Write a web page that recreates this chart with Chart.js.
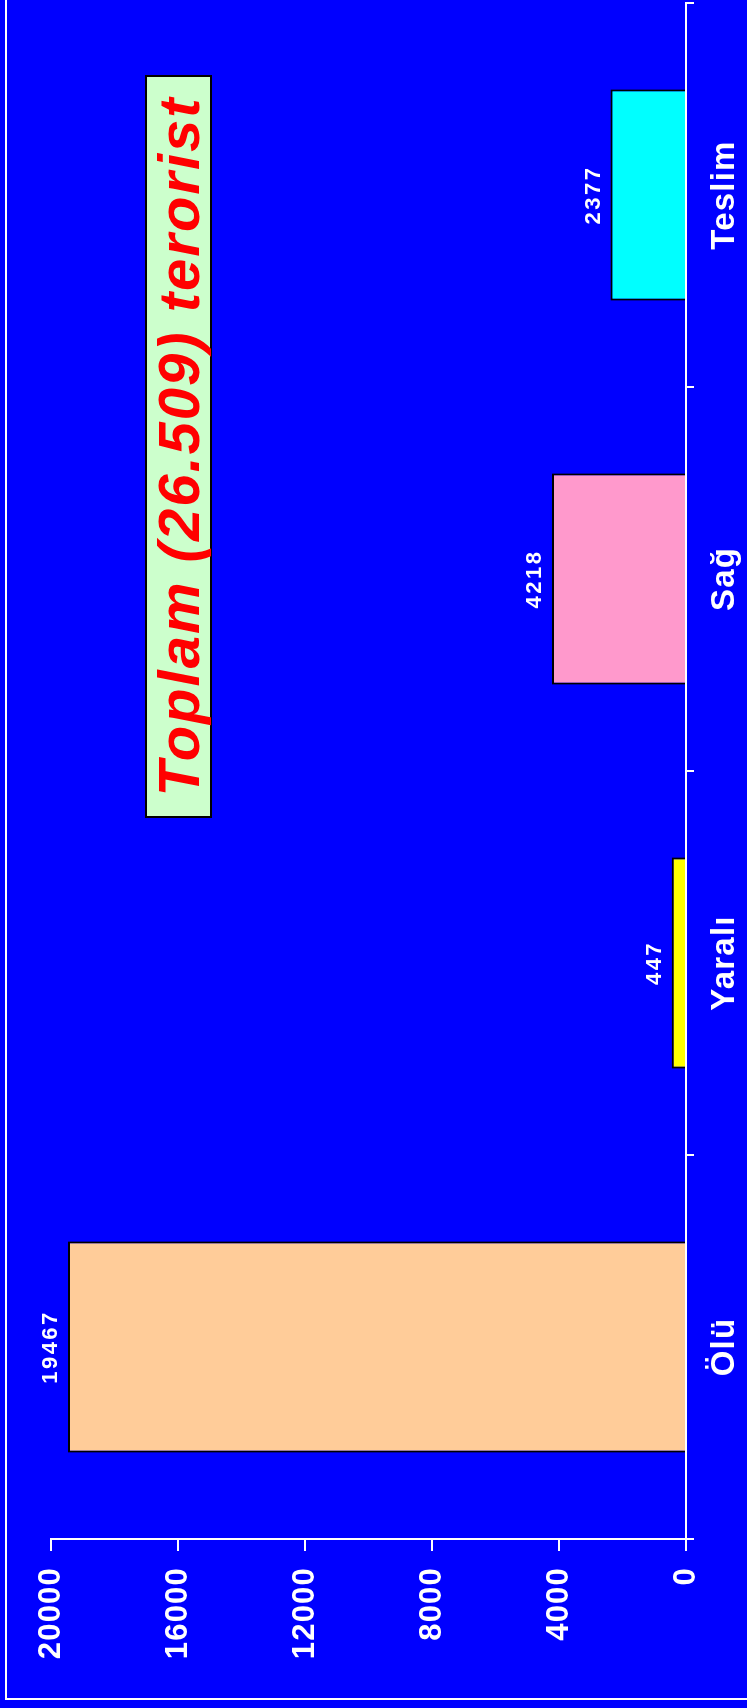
<!DOCTYPE html>
<html>
<head>
<meta charset="utf-8">
<script src="https://cdn.jsdelivr.net/npm/chart.js@4/dist/chart.umd.min.js"></script>
<style>
    html, body {
        margin: 0;
        padding: 0;
        width: 747px;
        height: 1708px;
        overflow: hidden;
        background: #0000FF;
    }
    /* the chart is laid out upright, then turned a quarter left */
    #stage {
        position: absolute;
        left: 0;
        top: 0;
        width: 1708px;
        height: 747px;
        transform-origin: 0 0;
        transform: translateY(1708px) rotate(-90deg);
        background: #0000FF;
    }
    #frame {
        position: absolute;
        left: 8px;
        top: 5px;
        width: 1760px;
        height: 800px;
        border: 2px solid #ffffff;
    }
    #chart {
        position: absolute;
        left: 0;
        top: 0;
    }
    #total {
        position: absolute;
        left: 890px;
        top: 145px;
        width: 739px;
        height: 63px;
        background: #CCFFCC;
        border: 2px solid #000000;
        color: #FF0000;
        font: italic bold 58px "Liberation Sans", Arial, sans-serif;
        letter-spacing: 2px;
        line-height: 63px;
        text-align: center;
        white-space: nowrap;
    }
</style>
</head>
<body>
<div id="stage">
    <div id="frame"></div>
    <canvas id="chart" width="1708" height="747"></canvas>
    <div id="total">Toplam (26.509) terorist</div>
</div>
<script>
const categories = ['Ölü', 'Yaralı', 'Sağ', 'Teslim'];
const counts = [19467, 447, 4218, 2377];
const barColors = ['#FFCC99', '#FFFF00', '#FF99CC', '#00FFFF'];
const valueTicks = [0, 4000, 8000, 12000, 16000, 20000];

const FONT = '"Liberation Sans", Arial, sans-serif';

// the original lettering is a touch wider than Liberation Sans
const wideText = {
    id: 'wideText',
    beforeDraw(chart) {
        chart.ctx.letterSpacing = '1.2px';
    },
};

// value printed above each bar
const barLabels = {
    id: 'barLabels',
    afterDatasetsDraw(chart) {
        const ctx = chart.ctx;
        const meta = chart.getDatasetMeta(0);
        ctx.save();
        ctx.font = `bold 22px ${FONT}`;
        ctx.letterSpacing = '2.5px';
        ctx.fillStyle = '#ffffff';
        ctx.textAlign = 'center';
        ctx.textBaseline = 'alphabetic';
        meta.data.forEach((bar, i) => {
            ctx.fillText(String(counts[i]), bar.x, bar.y - 11);
        });
        ctx.restore();
    },
};

new Chart(document.getElementById('chart'), {
    type: 'bar',
    data: {
        labels: categories,
        datasets: [{
            data: counts,
            backgroundColor: barColors,
            borderColor: '#000000',
            borderWidth: 2,
            barPercentage: 0.55,
            categoryPercentage: 1,
        }],
    },
    options: {
        responsive: false,
        animation: false,
        layout: {
            padding: { left: 0, top: 51, right: 3, bottom: 0 },
        },
        plugins: {
            legend: { display: false },
            tooltip: { enabled: false },
        },
        scales: {
            x: {
                offset: true,
                grid: {
                    offset: true,
                    drawOnChartArea: false,
                    color: '#ffffff',
                    lineWidth: 2,
                    tickLength: 8,
                },
                border: { display: true, color: '#ffffff', width: 2 },
                ticks: {
                    color: '#ffffff',
                    padding: 11,
                    font: { family: FONT, size: 33, weight: 'bold' },
                },
                afterFit(scale) { scale.height = 61; },
            },
            y: {
                min: 0,
                max: 20000,
                afterBuildTicks(scale) {
                    scale.ticks = valueTicks.map(v => ({ value: v }));
                },
                grid: {
                    drawOnChartArea: false,
                    color: '#ffffff',
                    lineWidth: 2,
                    tickLength: 12,
                },
                border: { display: true, color: '#ffffff', width: 2 },
                ticks: {
                    color: '#ffffff',
                    padding: 16,
                    font: { family: FONT, size: 31, weight: 'bold' },
                    callback: v => String(v),
                },
                afterFit(scale) { scale.width = 169; },
            },
        },
    },
    plugins: [wideText, barLabels],
});
</script>
</body>
</html>
